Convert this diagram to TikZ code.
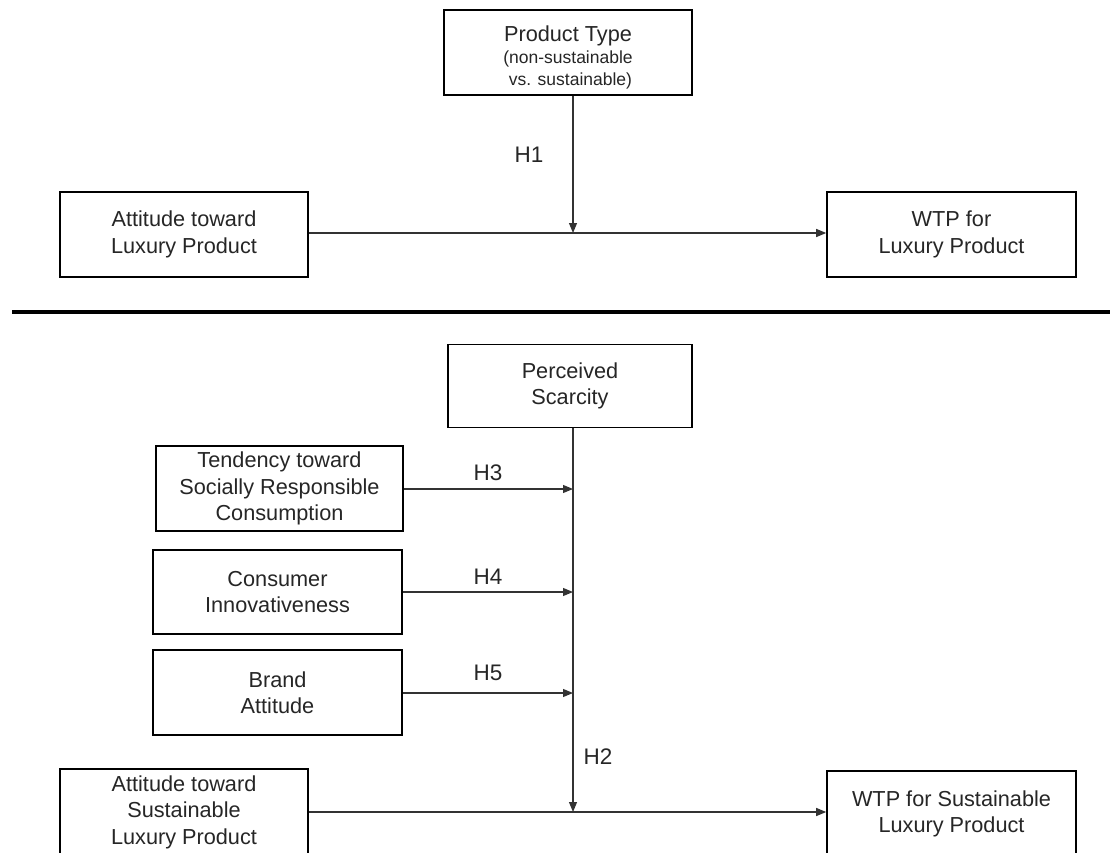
\documentclass[tikz,border=0pt]{standalone}
\usepackage{fontspec}
\setmainfont{Liberation Sans}
\usetikzlibrary{arrows.meta}
\tikzset{
  box/.style={draw=black, line width=1.6pt, fill=white, align=center, inner sep=0pt,
    font=\fontsize{21.7}{26.5}\selectfont, text=black!85},
  conn/.style={draw=black!80, line width=1.1pt, -{Triangle[length=10pt,width=8pt]}},
  plain/.style={draw=black!80, line width=1.1pt},
  hlab/.style={font=\fontsize{22.5}{25}\selectfont, text=black!85, inner sep=0pt}
}
\begin{document}
\begin{tikzpicture}[x=1pt,y=-1pt]
\useasboundingbox (0,0) rectangle (1110,853);
\clip (0,0) rectangle (1110,853);
% top panel
\node[box, minimum width=248pt, minimum height=85pt] (pt) at (568,52.5)
  {\rule{0pt}{25pt}Product Type\\[-4pt]{\fontsize{17.5}{21}\selectfont (non-sustainable}\\[-5pt]{\fontsize{17.5}{21}\selectfont \ vs. sustainable)}};
\node[box, minimum width=248pt, minimum height=85pt] (alp) at (184,234.5) {Attitude toward\\Luxury Product};
\node[box, minimum width=249pt, minimum height=85pt] (wlp) at (951.5,234.5) {WTP for\\Luxury Product};
\coordinate (m1) at (573,233);
\draw[conn] (alp.east |- m1) -- (wlp.west |- m1);
\draw[conn] (pt.south -| m1) -- (m1);
\node[hlab] (h1) at (529,155) {H1};
% separator
\coordinate (sepL) at (12,312);
\coordinate (sepR) at (1110,312);
\draw[line width=4pt, black] (sepL) -- (sepR);
% bottom panel
\node[box, minimum width=244pt, minimum height=83pt] (ps) at (570,386) {Perceived\\Scarcity};
\node[box, minimum width=247pt, minimum height=85pt] (tsr) at (279.5,488.5) {Tendency toward\\Socially Responsible\\Consumption};
\node[box, minimum width=249pt, minimum height=84pt] (ci) at (277.5,592) {Consumer\\Innovativeness};
\node[box, minimum width=249pt, minimum height=85pt] (ba) at (277.5,692.5) {Brand\\Attitude};
\node[box, minimum width=248pt, minimum height=86pt] (aslp) at (184,812) {Attitude toward\\Sustainable\\Luxury Product};
\node[box, minimum width=249pt, minimum height=86pt] (wslp) at (951.5,814) {WTP for Sustainable\\Luxury Product};
\coordinate (v3) at (573,489);
\coordinate (v4) at (573,592);
\coordinate (v5) at (573,693);
\coordinate (m2) at (573,812);
\draw[plain] (ps.south -| m2) -- (v5);
\draw[conn] (v5) -- (m2);
\draw[conn] (tsr.east |- v3) -- (v3);
\draw[conn] (ci.east |- v4) -- (v4);
\draw[conn] (ba.east |- v5) -- (v5);
\draw[conn] (aslp.east |- m2) -- (wslp.west |- m2);
\node[hlab] (h3) at (488,473) {H3};
\node[hlab] (h4) at (488,577) {H4};
\node[hlab] (h5) at (488,673) {H5};
\node[hlab] (h2) at (598,757) {H2};
\end{tikzpicture}
\end{document}
